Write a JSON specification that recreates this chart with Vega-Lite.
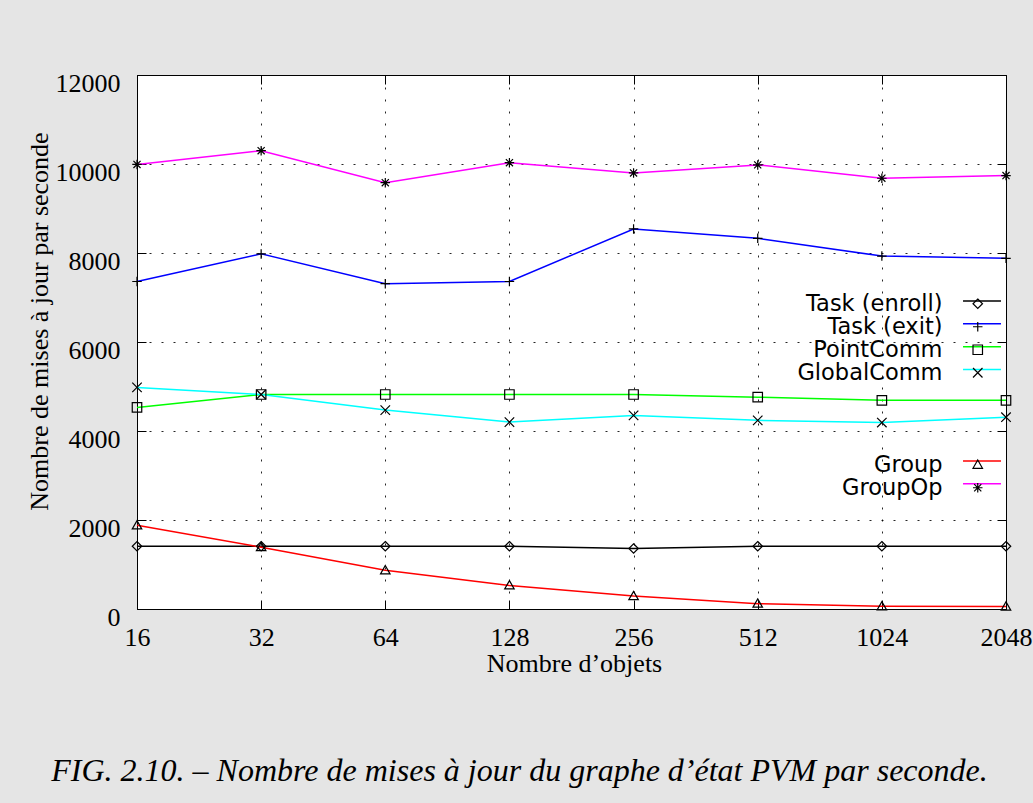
{
  "$schema": "https://vega.github.io/schema/vega-lite/v6.json",
  "width": 869,
  "height": 534,
  "autosize": {"type": "none"},
  "padding": {"left": 137, "top": 75, "right": 27, "bottom": 194},
  "background": "#e5e5e5",
  "config": {
    "view": {"stroke": "#000", "strokeWidth": 1, "fill": "#ffffff"}
  },
  "title": {
    "text": "FIG. 2.10. – Nombre de mises à jour du graphe d’état PVM par seconde.",
    "orient": "bottom",
    "anchor": "middle",
    "frame": "group",
    "dx": -52,
    "offset": 80,
    "font": "Liberation Serif",
    "fontSize": 32,
    "fontStyle": "italic",
    "fontWeight": "normal",
    "color": "#000"
  },
  "data": {
    "values": [
      {"n": 16, "series": "Task (enroll)", "v": 1410},
      {"n": 32, "series": "Task (enroll)", "v": 1410},
      {"n": 64, "series": "Task (enroll)", "v": 1410},
      {"n": 128, "series": "Task (enroll)", "v": 1410},
      {"n": 256, "series": "Task (enroll)", "v": 1360},
      {"n": 512, "series": "Task (enroll)", "v": 1410},
      {"n": 1024, "series": "Task (enroll)", "v": 1410},
      {"n": 2048, "series": "Task (enroll)", "v": 1410},
      {"n": 16, "series": "Task (exit)", "v": 7360},
      {"n": 32, "series": "Task (exit)", "v": 7980},
      {"n": 64, "series": "Task (exit)", "v": 7310},
      {"n": 128, "series": "Task (exit)", "v": 7360},
      {"n": 256, "series": "Task (exit)", "v": 8540},
      {"n": 512, "series": "Task (exit)", "v": 8330},
      {"n": 1024, "series": "Task (exit)", "v": 7930},
      {"n": 2048, "series": "Task (exit)", "v": 7880},
      {"n": 16, "series": "PointComm", "v": 4530},
      {"n": 32, "series": "PointComm", "v": 4820},
      {"n": 64, "series": "PointComm", "v": 4820},
      {"n": 128, "series": "PointComm", "v": 4820},
      {"n": 256, "series": "PointComm", "v": 4820},
      {"n": 512, "series": "PointComm", "v": 4760},
      {"n": 1024, "series": "PointComm", "v": 4690},
      {"n": 2048, "series": "PointComm", "v": 4690},
      {"n": 16, "series": "GlobalComm", "v": 4980},
      {"n": 32, "series": "GlobalComm", "v": 4820},
      {"n": 64, "series": "GlobalComm", "v": 4470},
      {"n": 128, "series": "GlobalComm", "v": 4200},
      {"n": 256, "series": "GlobalComm", "v": 4350},
      {"n": 512, "series": "GlobalComm", "v": 4240},
      {"n": 1024, "series": "GlobalComm", "v": 4190},
      {"n": 2048, "series": "GlobalComm", "v": 4310},
      {"n": 16, "series": "Group", "v": 1880},
      {"n": 32, "series": "Group", "v": 1390},
      {"n": 64, "series": "Group", "v": 870},
      {"n": 128, "series": "Group", "v": 530},
      {"n": 256, "series": "Group", "v": 290},
      {"n": 512, "series": "Group", "v": 120},
      {"n": 1024, "series": "Group", "v": 60},
      {"n": 2048, "series": "Group", "v": 55},
      {"n": 16, "series": "GroupOp", "v": 9990},
      {"n": 32, "series": "GroupOp", "v": 10300},
      {"n": 64, "series": "GroupOp", "v": 9580},
      {"n": 128, "series": "GroupOp", "v": 10030},
      {"n": 256, "series": "GroupOp", "v": 9800},
      {"n": 512, "series": "GroupOp", "v": 9980},
      {"n": 1024, "series": "GroupOp", "v": 9680},
      {"n": 2048, "series": "GroupOp", "v": 9740}
    ]
  },
  "resolve": {"axis": {"x": "independent", "y": "independent"}},
  "layer": [
    {
      "mark": {"type": "line", "strokeWidth": 1.5},
      "encoding": {
        "x": {
          "field": "n", "type": "quantitative",
          "scale": {"type": "log", "base": 2, "domain": [16, 2048], "nice": false},
          "axis": {
            "orient": "bottom",
            "values": [16, 32, 64, 128, 256, 512, 1024, 2048],
            "format": "d",
            "grid": true, "gridDash": [2, 10], "gridColor": "#000", "gridOpacity": 0.85,
            "domain": false,
            "ticks": true, "tickSize": -9, "tickColor": "#000",
            "labelFont": "Liberation Serif", "labelFontSize": 26, "labelColor": "#000",
            "labelBaseline": "alphabetic", "labelPadding": 45,
            "labelFlush": false, "labelOverlap": false, "labelBound": false,
            "title": "Nombre d’objets",
            "titleFont": "Liberation Serif", "titleFontSize": 26, "titleFontWeight": "normal", "titleColor": "#000",
            "titleX": 437, "titleY": 62, "titleBaseline": "alphabetic", "titleAlign": "center"
          }
        },
        "y": {
          "field": "v", "type": "quantitative",
          "scale": {"domain": [0, 12000], "nice": false},
          "axis": {
            "orient": "left",
            "values": [0, 2000, 4000, 6000, 8000, 10000, 12000],
            "format": "d",
            "grid": true, "gridDash": [2, 10], "gridColor": "#000", "gridOpacity": 0.85,
            "domain": false,
            "ticks": true, "tickSize": -9, "tickColor": "#000",
            "labelFont": "Liberation Serif", "labelFontSize": 26, "labelColor": "#000",
            "labelBaseline": "alphabetic", "labelOffset": 16, "labelPadding": 26, "labelAlign": "right",
            "labelOverlap": false, "labelBound": false, "labelFlush": false,
            "title": "Nombre de mises à jour par seconde",
            "titleFont": "Liberation Serif", "titleFontSize": 26, "titleFontWeight": "normal", "titleColor": "#000",
            "titleX": -98, "titleY": 246, "titleAngle": -90, "titleBaseline": "middle", "titleAlign": "center"
          }
        },
        "color": {
          "field": "series", "type": "nominal",
          "scale": {
            "domain": ["Task (enroll)", "Task (exit)", "PointComm", "GlobalComm", " ", "  ", "   ", "Group", "GroupOp"],
            "range": ["#000000", "#0000ff", "#00ff00", "#00ffff", "transparent", "transparent", "transparent", "#ff0000", "#ff00ff"]
          },
          "legend": {
            "orient": "none", "legendX": 839.5, "legendY": 220.5, "direction": "vertical",
            "title": null, "padding": 0, "rowPadding": 13.85,
            "symbolType": "M-4,0H4", "symbolSize": 90, "symbolStrokeWidth": 1.5,
            "labelOpacity": 0, "labelFontSize": 1
          }
        }
      }
    },
    {
      "mark": {"type": "point", "filled": false, "color": "#000", "strokeWidth": 1.2, "size": 90, "opacity": 1},
      "encoding": {
        "x": {
          "field": "n", "type": "quantitative",
          "scale": {"type": "log", "base": 2, "domain": [16, 2048], "nice": false},
          "axis": {
            "orient": "top",
            "values": [16, 32, 64, 128, 256, 512, 1024, 2048],
            "grid": false, "domain": false, "labels": false,
            "ticks": true, "tickSize": -9, "tickColor": "#000",
            "title": null
          }
        },
        "y": {
          "field": "v", "type": "quantitative",
          "scale": {"domain": [0, 12000], "nice": false},
          "axis": {
            "orient": "right",
            "values": [0, 2000, 4000, 6000, 8000, 10000, 12000],
            "grid": false, "domain": false, "labels": false,
            "ticks": true, "tickSize": -9, "tickColor": "#000",
            "title": null
          }
        },
        "shape": {
          "field": "series", "type": "nominal",
          "scale": {
            "domain": ["Task (enroll)", "Task (exit)", "PointComm", "GlobalComm", " \u2002", " \u2003", " \u2009", "Group", "GroupOp"],
            "range": [
              "M0,-1L1,0L0,1L-1,0Z",
              "M-1,0H1M0,-1V1",
              "M-1,-1H1V1H-1Z",
              "M-1,-1L1,1M-1,1L1,-1",
              "M0,0",
              "M0,0",
              "M0,0",
              "M0,-1L1,0.75H-1Z",
              "M-1,0H1M0,-1V1M-0.75,-0.75L0.75,0.75M-0.75,0.75L0.75,-0.75"
            ]
          },
          "legend": {
            "orient": "none", "legendX": 829.5, "legendY": 217.5, "direction": "vertical",
            "title": null, "padding": 0, "rowPadding": 0,
            "symbolSize": 90, "symbolStrokeWidth": 1.2, "symbolStrokeColor": "#000", "symbolFillColor": "transparent",
            "labelFont": "DejaVu Sans", "labelFontSize": 22.5, "labelColor": "#000",
            "labelAlign": "right", "labelOffset": -46.5, "labelLimit": 400
          }
        }
      }
    }
  ]
}
